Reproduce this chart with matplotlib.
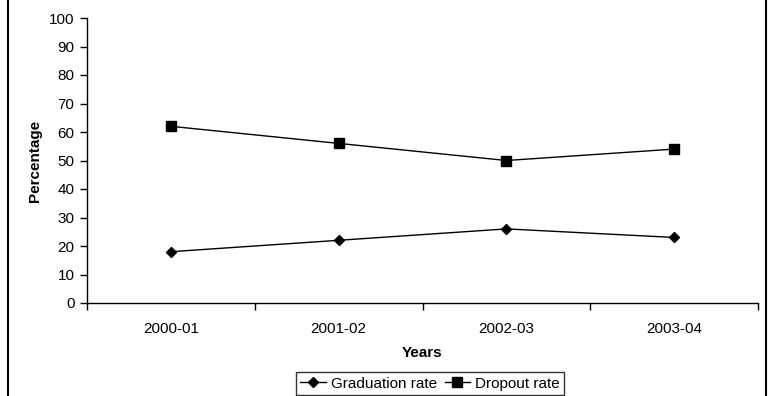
import matplotlib.pyplot as plt
from matplotlib.lines import Line2D

plt.rcParams['font.family'] = ['Liberation Sans', 'DejaVu Sans']

years = ['2000-01', '2001-02', '2002-03', '2003-04']
graduation = [18, 22, 26, 23]
dropout = [62, 56, 50, 54]
yticks = list(range(0, 101, 10))

fig = plt.figure(figsize=(7.69, 3.96), dpi=100)
ax = fig.add_axes([87 / 769, 1 - 303 / 396, (758 - 87) / 769, (303 - 18) / 396])

x = range(len(years))
ax.plot(x, graduation, color='black', linewidth=1, marker='D', markersize=5,
        label='Graduation rate')
ax.plot(x, dropout, color='black', linewidth=1, marker='s', markersize=6.5,
        label='Dropout rate')

ax.set_xlim(-0.5, len(years) - 0.5)
ax.set_ylim(0, 100)
ax.set_yticks(yticks)
ax.set_xticks(x)
ax.set_xticklabels(years)
ax.tick_params(axis='x', length=0, labelsize=11, pad=14)
ax.tick_params(axis='y', length=5, width=1, labelsize=11, direction='out', pad=4)

# category separators on the x axis
ax.set_xticks([i - 0.5 for i in range(len(years) + 1)], minor=True)
ax.tick_params(axis='x', which='minor', length=5, width=1, direction='out')

for s in ['top', 'right']:
    ax.spines[s].set_visible(False)
for s in ['left', 'bottom']:
    ax.spines[s].set_linewidth(1)

ax.set_xlabel('Years', fontsize=11, fontweight='bold', labelpad=7)
ax.set_ylabel('Percentage', fontsize=11, fontweight='bold', labelpad=5)

leg = fig.legend(loc='upper center', bbox_to_anchor=(430 / 769, 1 - 372 / 396),
                 ncol=2, frameon=True, fancybox=False, fontsize=11,
                 handlelength=1.65, handletextpad=0.33, columnspacing=0.5,
                 borderpad=0.3, borderaxespad=0)
leg.get_frame().set_edgecolor('black')
leg.get_frame().set_linewidth(1)

# outer frame (left and right edges visible in the crop)
fig.add_artist(Line2D([7.5 / 769, 7.5 / 769], [0, 1], color='black', linewidth=1.5))
fig.add_artist(Line2D([766 / 769, 766 / 769], [0, 1], color='black', linewidth=1.5))

fig.savefig('out.png', dpi=100)
